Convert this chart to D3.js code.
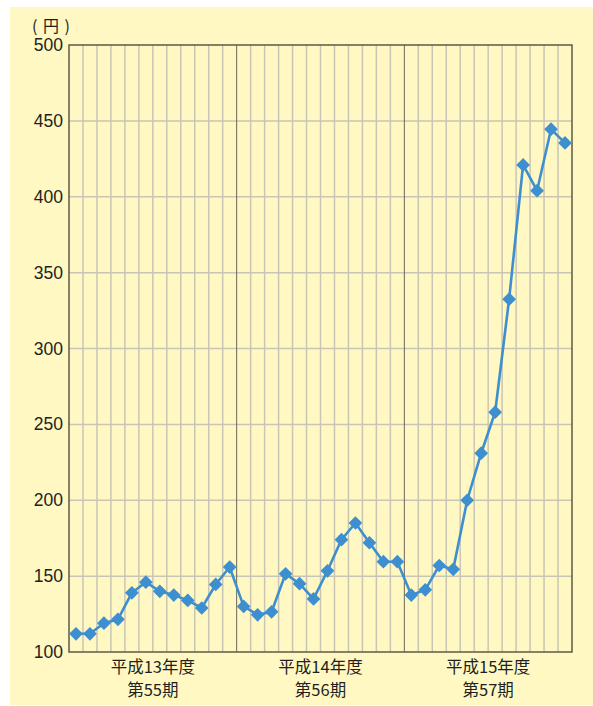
<!DOCTYPE html>
<html>
<head>
<meta charset="utf-8">
<script src="https://cdn.jsdelivr.net/npm/d3@7"></script>
<style>
  html, body { margin: 0; padding: 0; background: #fff; }
  text { font-family: "Liberation Sans", Arial, "Noto Sans CJK JP", sans-serif; fill: #231f20; }
  .jp { font-family: "Noto Sans CJK JP", sans-serif; }
</style>
</head>
<body>
<div id="chart"></div>
<script>
// fiscal years (3 x 12 months)
const years = ['平成13年度', '平成14年度', '平成15年度'];
const periods = ['第55期', '第56期', '第57期'];
const prices = [
  112, 112, 119, 121.5, 139, 146, 140, 137.5, 134, 129, 144.5, 156,
  130, 124.5, 126.5, 151.5, 145, 135, 153.5, 174, 185, 172, 159.5, 159.5,
  137.5, 141, 157, 154.5, 200, 231, 258, 332.5, 421, 404, 444.5, 435.5
];
const yTicks = [100, 150, 200, 250, 300, 350, 400, 450, 500];

const W = 593, H = 706;
const margin = { top: 45, right: 21, bottom: 54, left: 69 };
const width = W - margin.left - margin.right;
const height = H - margin.top - margin.bottom;

const svg = d3.select('#chart')
  .append('svg')
  .attr('width', W)
  .attr('height', H);

// panel
svg.append('rect')
  .attr('x', 10).attr('y', 7)
  .attr('width', W - 10).attr('height', 698)
  .attr('fill', '#fff8c3');

const g = svg.append('g')
  .attr('transform', `translate(${margin.left},${margin.top})`);

const months = d3.range(prices.length);

const x = d3.scaleBand()
  .domain(months)
  .range([0, width]);

const xYear = d3.scaleBand()
  .domain(years)
  .range([0, width]);

const y = d3.scaleLinear()
  .domain([100, 500])
  .range([height, 0]);

// horizontal grid
g.append('g')
  .selectAll('line')
  .data(yTicks.slice(1, -1))
  .enter()
  .append('line')
  .attr('x1', 0).attr('x2', width)
  .attr('y1', d => y(d)).attr('y2', d => y(d))
  .attr('stroke', '#c9c5b5')
  .attr('stroke-width', 1.5);

// vertical month lines
g.append('g')
  .selectAll('line')
  .data(months.slice(1).filter(i => i % 12 !== 0))
  .enter()
  .append('line')
  .attr('x1', d => x(d)).attr('x2', d => x(d))
  .attr('y1', 0).attr('y2', height)
  .attr('stroke', '#c9c5b5')
  .attr('stroke-width', 1.5);

// year dividers
g.append('g')
  .selectAll('line')
  .data(years.slice(1))
  .enter()
  .append('line')
  .attr('x1', d => xYear(d)).attr('x2', d => xYear(d))
  .attr('y1', 0).attr('y2', height)
  .attr('stroke', '#6b6657')
  .attr('stroke-width', 1);

// frame
g.append('rect')
  .attr('width', width).attr('height', height)
  .attr('fill', 'none')
  .attr('stroke', '#5e5947')
  .attr('stroke-width', 1.5);

// Y axis labels
g.append('g')
  .call(d3.axisLeft(y).tickValues(yTicks).tickSize(0).tickPadding(6))
  .call(a => a.select('.domain').remove())
  .selectAll('text')
  .style('font-size', '17.5px')
  .style('font-family', '"Liberation Sans", Arial, sans-serif')
  .attr('fill', '#231f20');

svg.append('text')
  .attr('class', 'jp')
  .attr('x', 32).attr('y', 32)
  .style('font-size', '16px')
  .style('letter-spacing', '1px')
  .text('( 円 )');

// X labels
const xl = g.append('g')
  .selectAll('text')
  .data(years)
  .enter()
  .append('text')
  .attr('class', 'jp')
  .attr('text-anchor', 'middle')
  .attr('x', d => xYear(d) + xYear.bandwidth() / 2)
  .style('font-size', '16.5px');

xl.append('tspan')
  .attr('x', d => xYear(d) + xYear.bandwidth() / 2)
  .attr('y', height + 21)
  .text(d => d);
xl.append('tspan')
  .attr('x', d => xYear(d) + xYear.bandwidth() / 2)
  .attr('y', height + 44)
  .text((_, i) => periods[i]);

// line
const line = d3.line()
  .x((_, i) => x(i) + x.bandwidth() / 2)
  .y(d => y(d));

g.append('path')
  .datum(prices)
  .attr('fill', 'none')
  .attr('stroke', '#3d8fcf')
  .attr('stroke-width', 2.6)
  .attr('d', line);

// markers
g.selectAll('.pt')
  .data(prices)
  .enter()
  .append('path')
  .attr('class', 'pt')
  .attr('d', d3.symbol(d3.symbolDiamond2, 120))
  .attr('transform', (d, i) => `translate(${x(i) + x.bandwidth() / 2},${y(d)})`)
  .attr('fill', '#3d8fcf');
</script>
</body>
</html>
